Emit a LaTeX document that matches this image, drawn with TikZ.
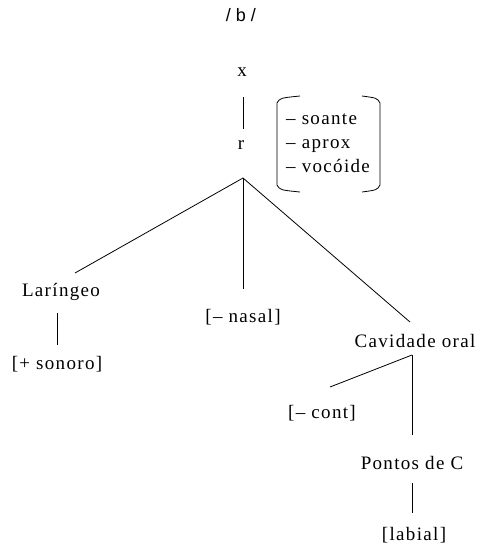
\documentclass[tikz,border=0pt]{standalone}
\usepackage{fontspec}
\setmainfont{Liberation Serif}[LetterSpace=7]
\newfontfamily\slashfont{Liberation Sans}
\usetikzlibrary{calc}
\begin{document}
\begin{tikzpicture}[x=1pt,y=-1pt,
  lbl/.style={inner sep=0pt,font=\fontsize{19}{22}\selectfont},
  feat/.style={lbl,anchor=west,text height=8.6pt,text depth=0pt},
  edge/.style={draw=black,line width=0.8pt}]
\useasboundingbox (0,0) rectangle (480,550);
% nodes
\node[inner sep=0pt,font=\slashfont\fontsize{18}{21}\selectfont] (phon) at (241,15) {/\hspace{5pt}b\hspace{5pt}/};
\node[lbl] (x) at (242,72) {x};
\node[lbl] (r) at (241,145) {r};
\coordinate (root) at (243,178);
\node[lbl] (lar) at (61,292) {Laríngeo};
\node[lbl] (son) at (57,364) {[+ sonoro]};
\node[lbl] (nas) at (243,317) {[– nasal]};
\node[lbl] (cav) at (415,341) {Cavidade oral};
\node[lbl] (cont) at (322,413) {[– cont]};
\node[lbl] (pon) at (412,463) {Pontos de C};
\node[lbl] (lab) at (414,535) {[labial]};
% feature matrix
\node[feat] (f1) at (286,120) {– soante};
\node[feat] (f2) at (286,144) {– aprox};
\node[feat] (f3) at (286,168) {– vocóide};
\draw[edge] ($(f1.west)+(14,-24)$) .. controls ($(f1.west)+(-6,-22)$) .. ($(f1.west)+(-9,-17)$)
  -- ($(f3.west)+(-9,17)$) .. controls ($(f3.west)+(-6,22)$) .. ($(f3.west)+(14,24)$);
\draw[edge] ($(f1.west)+(76,-24)$) .. controls ($(f1.west)+(91,-22)$) .. ($(f1.west)+(94,-17)$)
  -- ($(f3.west)+(94,17)$) .. controls ($(f3.west)+(91,22)$) .. ($(f3.west)+(76,24)$);
% connectors
\draw[edge] ($(x.center)+(1,25)$) -- ($(r.center)+(2,-16)$);
\draw[edge] (root) -- ($(lar.center)+(14,-19)$);
\draw[edge] (root) -- ($(nas.center)+(0,-28)$);
\draw[edge] (root) -- ($(cav.center)+(-5,-19)$);
\draw[edge] ($(lar.center)+(-4,21)$) -- ($(son.center)+(0,-19)$);
\coordinate (cavb) at ($(cav.center)+(-3,14)$);
\draw[edge] (cavb) -- ($(cont.center)+(8,-26)$);
\draw[edge] (cavb) -- ($(pon.center)+(0,-28)$);
\draw[edge] ($(pon.center)+(0,20)$) -- ($(lab.center)+(-2,-22)$);
\end{tikzpicture}
\end{document}
